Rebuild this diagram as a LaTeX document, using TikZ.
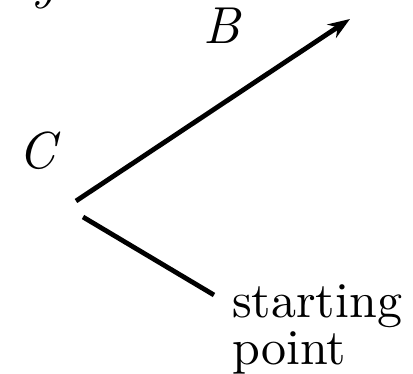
\documentclass[tikz,border=0pt]{standalone}
\usepackage{fontspec}
\newfontfamily\lmten[ItalicFont=lmroman10-italic.otf]{lmroman10-regular.otf}
\usetikzlibrary{arrows.meta}
\begin{document}
\begin{tikzpicture}[x=1pt,y=-1pt,
  lbl/.style={inner sep=0pt,anchor=base west,font=\lmten\itshape\fontsize{52}{45}\selectfont},
  txt/.style={inner sep=0pt,anchor=base west,align=left,font=\lmten\fontsize{50}{47}\selectfont},
  ray/.style={line width=4.8pt},
  rayarrow/.style={ray,-{Stealth[length=22pt,width=16pt]}}]
\useasboundingbox (0,0) rectangle (413,374);
\node[lbl] (ay) at (4,-1) {ay};
\node[lbl] (C) at (18,169) {C};
\node[lbl] (B) at (203,44) {B};
\node[txt] (s1) at (232,365) {starting\\point};
\coordinate (o1) at (76,201);
\coordinate (tip) at (350,19);
\coordinate (o2) at (83,217);
\coordinate (sp) at (214,295);
\draw[rayarrow] (o1) -- (tip);
\draw[ray] (o2) -- (sp);
\end{tikzpicture}
\end{document}
